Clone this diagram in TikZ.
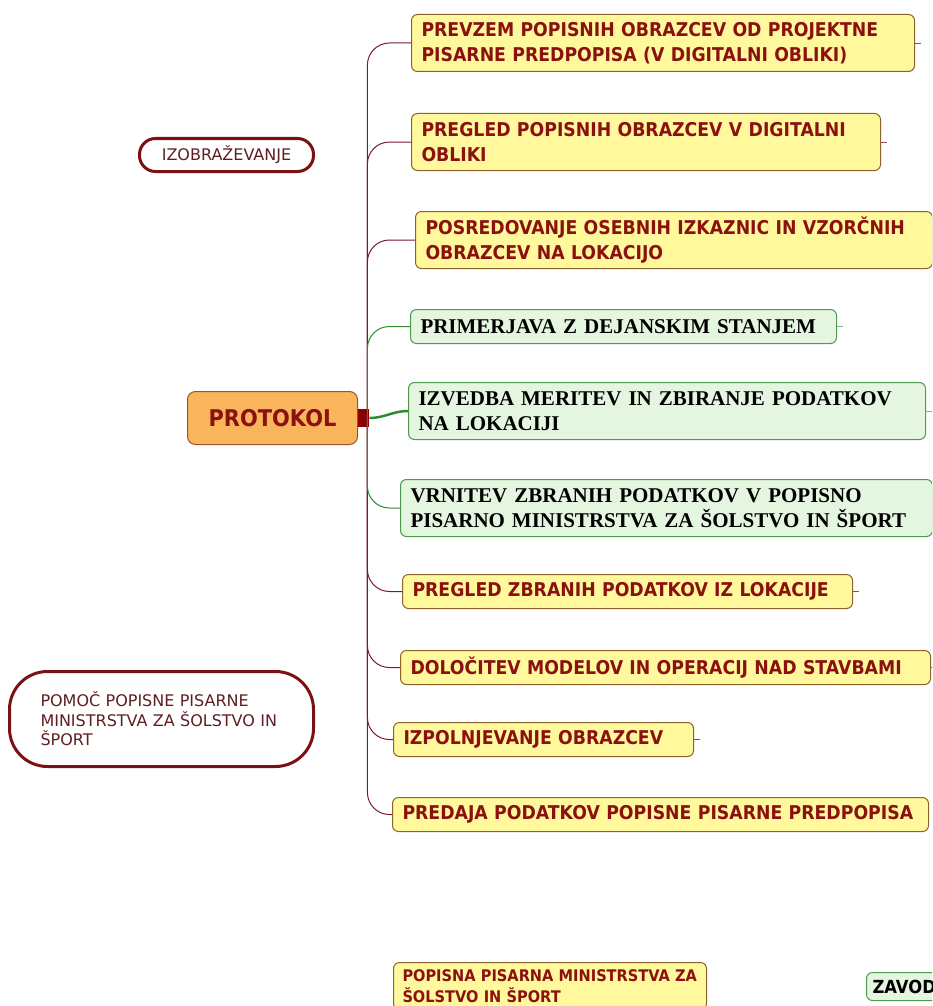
\documentclass[tikz,border=0pt]{standalone}
\usepackage{fontspec}
\usepackage{xcolor}
\usetikzlibrary{positioning}
\newfontfamily\mapsans{DejaVu Sans}[FakeStretch=0.91]
\newfontfamily\notesans{DejaVu Sans}
\newfontfamily\mapserif{Liberation Serif}
\definecolor{taskfill}{HTML}{FFF89C}
\definecolor{taskedge}{HTML}{8A6428}
\definecolor{tasktext}{HTML}{8B1010}
\definecolor{checkfill}{HTML}{E4F6E0}
\definecolor{checkedge}{HTML}{4E9A4E}
\definecolor{checkline}{HTML}{2E8B2E}
\definecolor{trunkred}{HTML}{7A1A2A}
\definecolor{protofill}{HTML}{F9B55C}
\definecolor{protoedge}{HTML}{A0522D}
\definecolor{hubred}{HTML}{8B0000}
\definecolor{noteedge}{HTML}{7B1113}
\definecolor{notetext}{HTML}{5E1E22}

\begin{document}
\begin{tikzpicture}[
  x=1pt, y=-1pt,
  task/.style={rectangle, draw=taskedge, fill=taskfill, rounded corners=6pt,
    line width=1pt, anchor=north west, align=left, inner xsep=10pt,
    minimum height=34pt, text=tasktext,
    font=\mapsans\bfseries\fontsize{19}{25}\selectfont},
  twoline/.style={minimum height=57pt},
  check/.style={task, draw=checkedge, fill=checkfill, text=black,
    font=\mapserif\bfseries\fontsize{21}{25}\selectfont},
  note/.style={rectangle, draw=noteedge, fill=white, line width=3pt,
    anchor=north west, align=left, text=notetext,
    font=\notesans\fontsize{16}{19.5}\selectfont},
  branch/.style={draw=trunkred, line width=1pt, rounded corners=22pt},
  greenbranch/.style={draw=checkline, line width=1pt, rounded corners=22pt},
  stub/.style={draw=trunkred!80, line width=0.8pt},
]
  \clip (0,0) rectangle (932,1006);

  % left side
  \node[note, rounded corners=16pt, minimum width=174pt, minimum height=33pt,
    align=center] (izobr) at (138,137) {IZOBRAŽEVANJE};
  \node[note, rounded corners=38pt, minimum height=95pt, inner xsep=31pt,
    text width=242pt] (pomoc) at (8,670)
    {POMOČ POPISNE PISARNE\\MINISTRSTVA ZA ŠOLSTVO IN\\ŠPORT};

  \node[rectangle, draw=protoedge, fill=protofill, rounded corners=8pt,
    line width=1pt, minimum width=170pt, minimum height=53pt, anchor=north west,
    text=tasktext, font=\mapsans\bfseries\fontsize{23}{28}\selectfont]
    (protokol) at (187,391) {PROTOKOL};
  \node[rectangle, fill=hubred, inner sep=0pt, minimum width=11pt,
    minimum height=18pt, right=0pt of protokol] (hub) {};
  \coordinate (root) at ([xshift=-2pt]hub.east);

  % tasks
  \node[task, twoline, text width=483pt] (prevzem) at (411,14)
    {PREVZEM POPISNIH OBRAZCEV OD PROJEKTNE\\PISARNE PREDPOPISA (V DIGITALNI OBLIKI)};
  \node[task, twoline, text width=449pt, below=41pt of prevzem.south west,
    anchor=north west] (pregobr)
    {PREGLED POPISNIH OBRAZCEV V DIGITALNI\\OBLIKI};
  \node[task, twoline, text width=497pt, below=40pt of pregobr.south west,
    anchor=north west, xshift=4pt] (posred)
    {POSREDOVANJE OSEBNIH IZKAZNIC IN VZORČNIH\\OBRAZCEV NA LOKACIJO};
  \node[check, text width=406pt, below=40pt of posred.south west,
    anchor=north west, xshift=-5pt] (primerjava)
    {PRIMERJAVA Z DEJANSKIM STANJEM};
  \node[check, twoline, text width=497pt, below=38pt of primerjava.south west,
    anchor=north west, xshift=-2pt] (izvedba)
    {IZVEDBA MERITEV IN ZBIRANJE PODATKOV\\NA LOKACIJI};
  \node[check, twoline, text width=512pt, below=39pt of izvedba.south west,
    anchor=north west, xshift=-8pt] (vrnitev)
    {VRNITEV ZBRANIH PODATKOV V POPISNO\\PISARNO MINISTRSTVA ZA ŠOLSTVO IN ŠPORT};
  \node[task, text width=430pt, below=37pt of vrnitev.south west,
    anchor=north west, xshift=2pt] (pregzbr)
    {PREGLED ZBRANIH PODATKOV IZ LOKACIJE};
  \node[task, text width=510pt, below=41pt of pregzbr.south west,
    anchor=north west, xshift=-2pt] (dolocitev)
    {DOLOČITEV MODELOV IN OPERACIJ NAD STAVBAMI};
  \node[task, text width=280pt, below=37pt of dolocitev.south west,
    anchor=north west, xshift=-7pt] (izpoln)
    {IZPOLNJEVANJE OBRAZCEV};
  \node[task, text width=516pt, below=40pt of izpoln.south west,
    anchor=north west, xshift=-1pt] (predaja)
    {PREDAJA PODATKOV POPISNE PISARNE PREDPOPISA};

  % bottom
  \node[task, minimum height=47pt, inner xsep=9pt, text width=295pt,
    font=\mapsans\bfseries\fontsize{16}{21}\selectfont] (popisna) at (393,962)
    {POPISNA PISARNA MINISTRSTVA ZA\\ŠOLSTVO IN ŠPORT};
  \node[task, draw=checkedge, fill=checkfill, text=black, minimum height=28pt,
    inner xsep=6pt, font=\mapsans\bfseries\fontsize{18}{20}\selectfont]
    (zavodi) at (866,972) {ZAVODI};

  % branches
  \foreach \t in {prevzem,pregobr,posred,pregzbr,dolocitev,izpoln,predaja}
    \draw[branch] (root) |- (\t.west);
  \draw[greenbranch] (root) |- (primerjava.west);
  \draw[greenbranch] (root) |- (vrnitev.west);
  \draw[draw=checkline, line width=2.5pt] (hub.east) to[out=0,in=180] (izvedba.west);

  % collapsed markers
  \foreach \t in {prevzem,pregobr,pregzbr,dolocitev,izpoln}
    \draw[stub] (\t.east) -- ++(6,0);
  \foreach \t in {primerjava,izvedba}
    \draw[stub, draw=checkline!60] (\t.east) -- ++(6,0);
\end{tikzpicture}
\end{document}
